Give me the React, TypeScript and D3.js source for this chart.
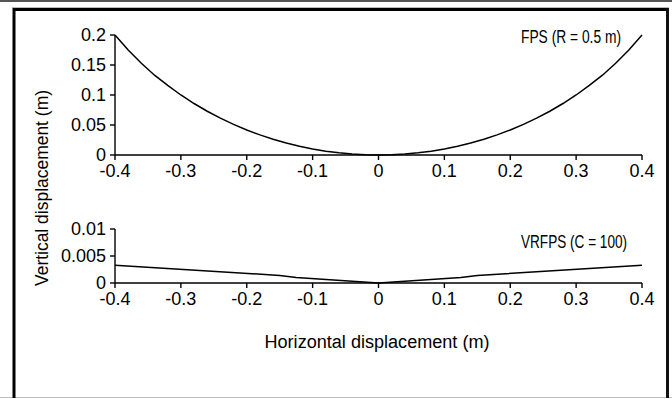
import React from "react";
import * as d3 from "d3";

const fpsX = [-0.4,-0.38,-0.36,-0.34,-0.32,-0.3,-0.28,-0.26,-0.24,-0.22,-0.2,-0.18,-0.16,-0.14,-0.12,-0.1,-0.08,-0.06,-0.04,-0.02,0,0.02,0.04,0.06,0.08,0.1,0.12,0.14,0.16,0.18,0.2,0.22,0.24,0.26,0.28,0.3,0.32,0.34,0.36,0.38,0.4];
const fpsY = [0.2,0.175,0.153,0.133,0.116,0.1,0.0858,0.0729,0.0614,0.051,0.0417,0.0335,0.0263,0.02,0.0146,0.0101,0.0064,0.0036,0.0016,0.0004,0,0.0004,0.0016,0.0036,0.0064,0.0101,0.0146,0.02,0.0263,0.0335,0.0417,0.051,0.0614,0.0729,0.0858,0.1,0.116,0.133,0.153,0.175,0.2];
const vrX = [-0.4,-0.15,-0.125,0,0.125,0.15,0.4];
const vrY = [0.0033,0.0014,0.001,0,0.001,0.0014,0.0033];
const xTicks = [-0.4,-0.3,-0.2,-0.1,0,0.1,0.2,0.3,0.4];
const fpsTicks = [0,0.05,0.1,0.15,0.2];
const vrTicks = [0,0.005,0.01];

const FONT = "'Liberation Sans', Arial, sans-serif";
const FS = 18;

function Panel({ xs, ys, yTicks, yMax, top, bottom, label, labelY, labelW }: any) {
  const x = d3.scaleLinear().domain([-0.4, 0.4]).range([115, 642]);
  const y = d3.scaleLinear().domain([0, yMax]).range([bottom, top]);
  const line = d3.line<number>().x((_, i) => x(xs[i])).y((d) => y(d));
  return (
    <g>
      <line x1={115} x2={115} y1={y(yMax)} y2={y(0)} stroke="#000" strokeWidth={1.4} />
      <line x1={115} x2={642} y1={y(0)} y2={y(0)} stroke="#000" strokeWidth={1.4} />
      {yTicks.map((t: number) => (
        <g key={"y" + t}>
          <line x1={110} x2={115} y1={y(t)} y2={y(t)} stroke="#000" strokeWidth={1.4} />
          <text x={106} y={y(t)} dy="0.36em" textAnchor="end" fontSize={FS} fontFamily={FONT}>{String(t)}</text>
        </g>
      ))}
      {xTicks.map((t) => (
        <g key={"x" + t}>
          <line x1={x(t)} x2={x(t)} y1={y(0)} y2={y(0) + 5} stroke="#000" strokeWidth={1.4} />
          <text x={x(t)} y={y(0) + 22} textAnchor="middle" fontSize={FS} fontFamily={FONT}>{String(t)}</text>
        </g>
      ))}
      <path d={line(ys) || ""} fill="none" stroke="#000" strokeWidth={1.5} />
      <text x={521} y={labelY} fontSize={FS} fontFamily={FONT} textLength={labelW} lengthAdjust="spacingAndGlyphs">{label}</text>
    </g>
  );
}

export default function App() {
  return (
    <svg width={672} height={399} style={{ position: "absolute", left: 0, top: 0, background: "#fff" }}>
      <rect x={0} y={0} width={672} height={399} fill="#fff" />
      <rect x={0} y={0} width={672} height={2} fill="#555" />
      <line x1={12} x2={669} y1={7.5} y2={7.5} stroke="#bbb" strokeWidth={1} />
      <line x1={0} x2={672} y1={397.5} y2={397.5} stroke="#bbb" strokeWidth={1} />
      <line x1={14} x2={14} y1={8} y2={398} stroke="#000" strokeWidth={3} />
      <line x1={13} x2={669} y1={9.5} y2={9.5} stroke="#000" strokeWidth={3} />
      <line x1={667.5} x2={667.5} y1={8} y2={398} stroke="#111" strokeWidth={3} />
      <Panel xs={fpsX} ys={fpsY} yTicks={fpsTicks} yMax={0.2} top={35} bottom={155}
        label="FPS (R = 0.5 m)" labelY={43} labelW={100} />
      <Panel xs={vrX} ys={vrY} yTicks={vrTicks} yMax={0.01} top={229} bottom={283}
        label="VRFPS (C = 100)" labelY={248} labelW={106} />
      <text x={377} y={348} textAnchor="middle" fontSize={FS} fontFamily={FONT} textLength={225} lengthAdjust="spacingAndGlyphs">Horizontal displacement (m)</text>
      <text transform="translate(48,188) rotate(-90)" textAnchor="middle" fontSize={FS} fontFamily={FONT} textLength={196} lengthAdjust="spacingAndGlyphs">Vertical displacement (m)</text>
    </svg>
  );
}
